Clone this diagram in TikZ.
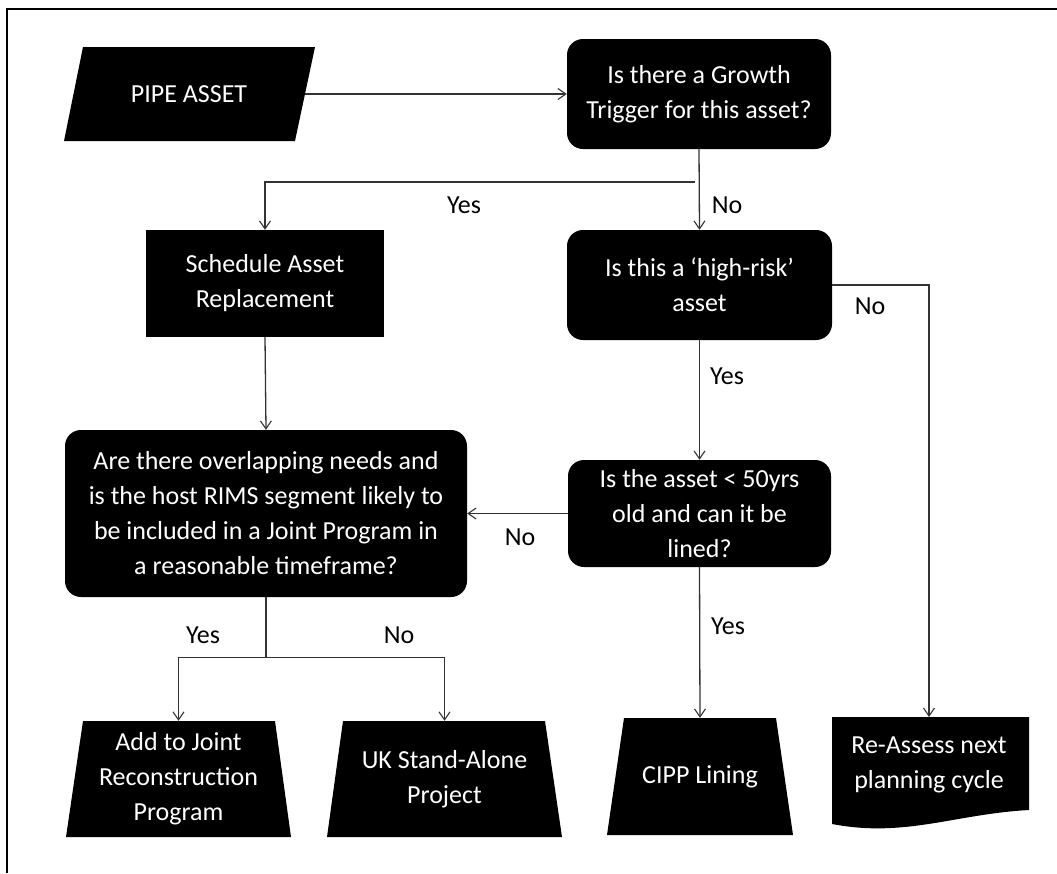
\documentclass[tikz,border=0pt]{standalone}
\usepackage{fontspec}
\setmainfont{Carlito}
\usetikzlibrary{arrows.meta,calc}
\begin{document}
\begin{tikzpicture}[x=1pt,y=-1pt,
  txt/.style={text=white,font=\fontsize{26}{35}\selectfont,align=center,inner sep=0pt},
  rbox/.style={txt,fill=black,rounded corners=16pt},
  sbox/.style={txt,fill=black},
  anchorbox/.style={txt},
  lab/.style={font=\fontsize{26}{30}\selectfont,text=black,inner sep=0pt},
  conn/.style={draw=black!80,line width=1.3pt},
  arr/.style={conn,-{Straight Barb[length=8pt,width=11pt,line width=1.1pt]}}]
\useasboundingbox (0,0) rectangle (1057,873);
\draw[line width=2.5pt] (1057,9) -- (7,9) -- (7,873);

% custom shapes
\fill (83,47) -- (315,47) -- (295,141) -- (64,141) -- cycle;
\fill (83,721) -- (275,721) -- (291,837) -- (66,837) -- cycle;
\fill (343,721) -- (545,721) -- (562,837) -- (327,837) -- cycle;
\fill (624,718) -- (776,718) -- (793,835) -- (607,835) -- cycle;
\fill (832,717) -- (1029,717) -- (1029,810) .. controls (955,814) and (905,838) .. (832,824) -- cycle;

% nodes
\node[anchorbox,minimum width=232,minimum height=94] (pipe) at (189,94) {PIPE ASSET};
\node[rbox,minimum width=264,minimum height=110] (grow) at (699,94) {Is there a Growth\\Trigger for this asset?};
\node[rbox,minimum width=265,minimum height=110] (risk) at (699.5,285) {Is this a `high-risk'\\asset};
\node[sbox,minimum width=238,minimum height=107] (sched) at (265,283.5) {Schedule Asset\\Replacement};
\node[rbox,minimum width=402,minimum height=167] (q) at (266,513.5) {Are there overlapping needs and\\is the host RIMS segment likely to\\be included in a Joint Program in\\a reasonable timeframe?};
\node[rbox,minimum width=263,minimum height=107] (age) at (699.5,513.5) {Is the asset < 50yrs\\old and can it be\\lined?};
\node[anchorbox,minimum width=200,minimum height=116] (add) at (178.5,779) {Add to Joint\\Reconstruction\\Program};
\node[anchorbox,minimum width=210,minimum height=116] (uk) at (444.5,779) {UK Stand-Alone\\Project};
\node[anchorbox,minimum width=170,minimum height=117] (cipp) at (700,776.5) {CIPP Lining};
\node[anchorbox,minimum width=197,minimum height=100] (re) at (929,767) {};
\node[txt] (retext) at (929,765) {Re-Assess next\\planning cycle};
\coordinate (retop) at (929,717);

% connectors
\draw[arr] (pipe.east) -- (grow.west);
\draw[arr] (grow.south) -- (risk.north);
\coordinate (split) at (695,182);
\draw[arr] (split) -| (sched.north);
\draw[arr] (risk.east) -| (retop);
\draw[arr] (risk.south) -- (age.north);
\draw[arr] (age.west) -- (q.east);
\draw[arr] (age.south) -- (cipp.north);
\draw[arr] (sched.south) -- (q.north);
\coordinate (qs) at ($(q.south)+(0,60)$);
\draw[conn] (q.south) -- (qs);
\draw[arr] (qs) -| (add.north);
\draw[arr] (qs) -| (uk.north);

% labels
\node[lab] (l1) at (464,205) {Yes};
\node[lab] (l2) at (727,205) {No};
\node[lab] (l3) at (870,306) {No};
\node[lab] (l4) at (727,376) {Yes};
\node[lab] (l5) at (520,537) {No};
\node[lab] (l6) at (728,626) {Yes};
\node[lab] (l7) at (203,635) {Yes};
\node[lab] (l8) at (399,635) {No};
\end{tikzpicture}
\end{document}
